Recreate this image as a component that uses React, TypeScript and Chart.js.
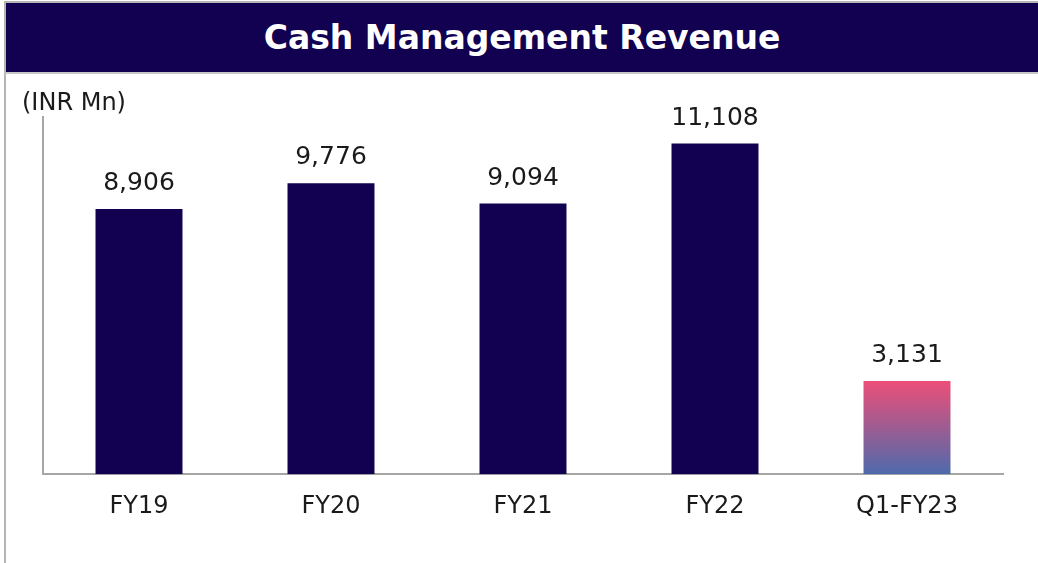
import React, { useEffect, useRef } from "react";
import { Chart, registerables } from "chart.js";

Chart.register(...registerables);

const TITLE = "Cash Management Revenue";
const UNIT_LABEL = "(INR Mn)";
const categories = ["FY19", "FY20", "FY21", "FY22", "Q1-FY23"];
const revenue = [8906, 9776, 9094, 11108, 3131];
const valueLabels = ["8,906", "9,776", "9,094", "11,108", "3,131"];

const NAVY = "#110150";
const FONT = "'DejaVu Sans', sans-serif";

export default function App() {
  const canvasRef = useRef<HTMLCanvasElement | null>(null);

  useEffect(() => {
    const canvas = canvasRef.current;
    if (!canvas) return;
    const labelPlugin = {
      id: "valueLabels",
      afterDatasetsDraw(chart: any) {
        const ctx = chart.ctx;
        const meta = chart.getDatasetMeta(0);
        ctx.save();
        ctx.fillStyle = "#1a1a1a";
        ctx.font = `25px ${FONT}`;
        ctx.textAlign = "center";
        ctx.textBaseline = "alphabetic";
        meta.data.forEach((bar: any, i: number) => {
          ctx.fillText(valueLabels[i], bar.x, bar.y - 19);
        });
        ctx.font = `24px ${FONT}`;
        ctx.textAlign = "left";
        ctx.fillText(UNIT_LABEL, 22, 110);
        ctx.restore();
      },
    };

    const chart = new Chart(canvas, {
      type: "bar",
      data: {
        labels: categories,
        datasets: [
          {
            data: revenue,
            backgroundColor: (c: any) => {
              const i = c.dataIndex;
              if (i !== categories.length - 1) return NAVY;
              const ch = c.chart;
              const ys = ch.scales?.y;
              if (!ys) return NAVY;
              const top = ys.getPixelForValue(revenue[i]);
              const base = ys.getPixelForValue(0);
              const g = ch.ctx.createLinearGradient(0, top, 0, base);
              g.addColorStop(0, "#ec4f78");
              g.addColorStop(1, "#4e6aac");
              return g;
            },
            borderWidth: 0,
            barPercentage: 0.453,
            categoryPercentage: 1,
          },
        ],
      },
      options: {
        responsive: false,
        animation: false,
        layout: { padding: { left: 43, right: 35, top: 117, bottom: 24 } },
        plugins: {
          legend: { display: false },
          title: { display: false },
          tooltip: { enabled: false },
        },
        scales: {
          x: {
            grid: { display: false, drawTicks: false },
            border: { display: true, color: "#a6a6a6", width: 2 },
            ticks: {
              color: "#1a1a1a",
              font: { family: FONT, size: 24 },
              padding: 18,
            },
          },
          y: {
            min: 0,
            max: 12000,
            grid: { display: false, drawTicks: false },
            border: { display: true, color: "#a6a6a6", width: 2 },
            ticks: { display: false },
          },
        },
      },
      plugins: [labelPlugin],
    });
    return () => chart.destroy();
  }, []);

  return (
    <div
      style={{
        position: "absolute",
        left: 0,
        top: 0,
        width: 1038,
        height: 563,
        background: "#ffffff",
        overflow: "hidden",
      }}
    >
      <canvas
        ref={canvasRef}
        width={1038}
        height={563}
        style={{ position: "absolute", left: 0, top: 0, width: 1038, height: 563 }}
      />
      <div
        style={{
          position: "absolute",
          left: 4,
          top: 1,
          width: 2,
          height: 562,
          background: "#b5b5b5",
        }}
      />
      <div
        style={{
          position: "absolute",
          left: 4,
          top: 1,
          width: 1034,
          height: 73,
          boxSizing: "border-box",
          borderTop: "2px solid #b5b5b5",
          borderBottom: "2px solid #c8c8c8",
          borderLeft: "2px solid #b5b5b5",
          background: NAVY,
          color: "#ffffff",
          fontFamily: FONT,
          fontWeight: "bold",
          fontSize: 33,
          display: "flex",
          alignItems: "center",
          justifyContent: "center",
        }}
      >
        {TITLE}
      </div>
    </div>
  );
}
